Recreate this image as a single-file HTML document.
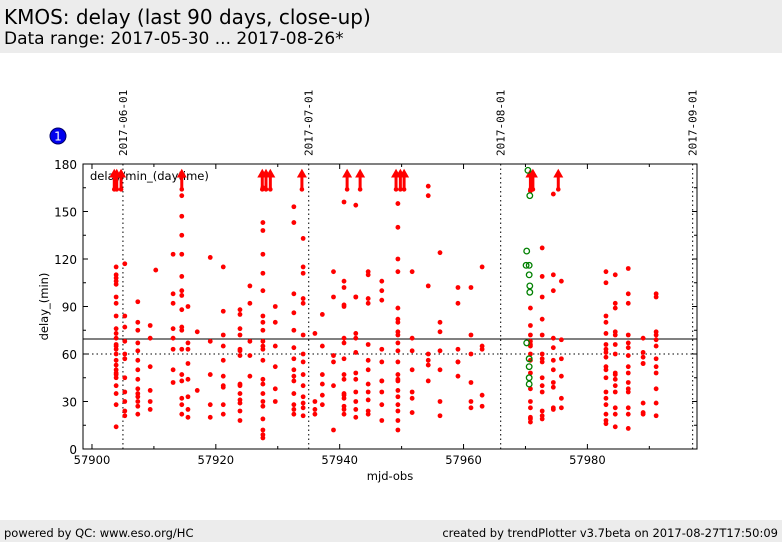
<!DOCTYPE html>
<html><head><meta charset="utf-8"><style>
body{margin:0;width:782px;height:542px;background:#fff;font-family:"DejaVu Sans","Liberation Sans",sans-serif;overflow:hidden;position:relative}
#hdr{position:absolute;left:0;top:0;width:782px;height:53px;background:#ececec}
#t1{position:absolute;left:4px;top:5px;font-size:20px;color:#000}
#t2{position:absolute;left:4px;top:29px;font-size:17px;color:#000}
#ftr{position:absolute;left:0;top:520px;width:782px;height:22px;background:#ececec;font-size:11.5px}
#fl{position:absolute;left:4px;top:6px}
#fr{position:absolute;right:4px;top:6px}
svg{position:absolute;left:0;top:0}
</style></head><body>
<div id="hdr">
<div id="t1">KMOS: delay (last 90 days, close-up)</div>
<div id="t2">Data range: 2017-05-30 ... 2017-08-26*</div>
</div>
<svg id="chart" width="782" height="542"></svg>
<div id="ftr">
<span id="fl">powered by QC: www.eso.org/HC</span>
<span id="fr">created by trendPlotter v3.7beta on 2017-08-27T17:50:09</span>
</div>
<script>
const colMjd=[57903.9,57905.3,57907.4,57909.4,57910.3,57913.1,57914.5,57915.5,57917.0,57919.1,57921.2,57923.9,57925.5,57927.6,57929.6,57932.6,57934.1,57936.0,57937.2,57939.0,57940.7,57942.6,57944.6,57946.8,57949.4,57951.7,57954.3,57956.2,57959.1,57961.2,57963.0,57970.8,57972.7,57974.5,57975.8,57983.0,57984.5,57986.6,57989.0,57991.1];
const colDelays=[
[108,106,104,96,115,110,92,84,76,73,70,66,63,60,56,53,50,48,45,40,35,28,14,65,47],
[117,84,77,68,60,57,45,36,30,24,21],
[93,80,75,67,62,56,50,44,38,35,33,30,27,22],
[78,70,37,30,25,52],
[113],
[123,98,92,76,70,63,50,42],
[172,160,147,135,123,109,100,97,88,77,75,63,47,43,32,28,22],
[90,67,63,54,44,33,20,25],
[74,37],
[121,68,47,28,20],
[87,72,65,56,46,40,39,28,22,115],
[88,76,72,63,62,59,41,40,35,31,29,24,18,85],
[103,92,68,59,46],
[165,143,138,123,111,100,84,80,75,68,65,63,56,44,41,35,30,27,19,12,9,7],
[90,80,65,52,38,30],
[153,143,98,86,64,57,50,46,43,35,28,25,22,75],
[115,111,95,92,72,60,55,47,40,33,29,26,21,133],
[73,30,25,22],
[85,65,47,41,34,28],
[96,59,55,40,12,112],
[156,106,102,91,90,70,67,57,47,35,34,32,27,25,22,44],
[154,96,96,73,61,48,44,36,30,25,20,70],
[110,112,95,92,66,56,50,41,36,31,24,22],
[106,100,94,63,55,43,36,28,18,43],
[155,140,120,89,82,80,74,72,67,62,55,47,44,43,37,33,28,24,18,12,112],
[112,70,62,50,36,32,23],
[166,160,103,56,53,60,43],
[124,80,74,62,50,30,21],
[92,102,63,55,46,55],
[102,72,60,42,30,26],
[115,63,65,34,27],
[68,66,65,72,60,56,48,38,30,26,20,19,17,89,78,163],
[127,96,82,72,60,57,55,45,40,36,24,21,19,109],
[110,100,70,64,56,50,42,39,26,25,161],
[106,69,57,46,32,26],
[112,84,80,73,66,63,61,58,52,50,45,36,32,28,22,18,16,105],
[110,92,89,74,72,66,60,47,44,40,36,26,22,14,48],
[114,98,92,72,67,64,59,52,48,42,38,36,26,22,13],
[70,61,58,54,29,23,22,54],
[98,96,74,72,69,57,52,48,38,29,21,65]];
const greenMjd=[57970.4,57970.7,57970.2,57970.1,57970.6,57970.6,57970.7,57970.7,57970.2,57970.6,57970.6,57970.6,57970.6];
const greenDelays=[176,160,125,116,116,110,103,99,67,57,52,45,41];
const arrowMjd=[57903.6,57904.0,57904.7,57914.5,57927.5,57928.1,57928.8,57933.9,57941.2,57943.3,57949.1,57949.8,57950.4,57970.8,57971.2,57975.3];
const yTicks=[0,30,60,90,120,150,180];
const xTicks=[57900,57920,57940,57960,57980];
const dateLines=[57905,57935,57966,57997];
const dateLabels=["2017-06-01","2017-07-01","2017-08-01","2017-09-01"];
const refSolid=69.5, refDotted=60;

const L=83,R=697,T=164,B=449,XMIN=57898.55,XMAX=57997.7,YMIN=0,YMAX=180;
const sx=v=>L+(v-XMIN)/(XMAX-XMIN)*(R-L);
const sy=v=>B-(v-YMIN)/(YMAX-YMIN)*(B-T);
const svg=document.getElementById('chart');
const NS='http://www.w3.org/2000/svg';
function mk(tag,at,parent){const e=document.createElementNS(NS,tag);for(const k in at)e.setAttribute(k,at[k]);(parent||svg).appendChild(e);return e;}

// plot frame
const frame=mk('rect',{x:L,y:T,width:R-L,height:B-T,fill:'#fff',stroke:'#000','stroke-width':1});



// date lines
dateLines.forEach((d,i)=>{
  const x=sx(d);
  const ln=mk('line',{x1:x,y1:T,x2:x,y2:B,stroke:'#000','stroke-width':1,'stroke-dasharray':'1.5,3'});
  
  
  const tx=mk('text',{x:0,y:0,transform:`translate(${x+4},${T-8}) rotate(-90)`,'font-size':11,'font-family':'DejaVu Sans Mono,Liberation Mono,monospace',fill:'#000'});
  tx.textContent=dateLabels[i];
  
  
});

// reference lines
const rs=mk('line',{x1:L,y1:sy(refSolid),x2:R,y2:sy(refSolid),stroke:'#000','stroke-width':1});


const rd=mk('line',{x1:L,y1:sy(refDotted),x2:R,y2:sy(refDotted),stroke:'#000','stroke-width':1,'stroke-dasharray':'1.5,3'});



// y ticks
yTicks.forEach(v=>{
  const y=sy(v);
  mk('line',{x1:L,y1:y,x2:L+5,y2:y,stroke:'#000'});
  mk('line',{x1:R,y1:y,x2:R-5,y2:y,stroke:'#000'});
  const t=mk('text',{x:L-6,y:y+5,'text-anchor':'end','font-size':12,fill:'#000'});
  t.textContent=v;
  
  
});
for(let v=15;v<180;v+=30){const y=sy(v);mk('line',{x1:L,y1:y,x2:L+3,y2:y,stroke:'#000'});mk('line',{x1:R,y1:y,x2:R-3,y2:y,stroke:'#000'});}
// x ticks
xTicks.forEach(v=>{
  const x=sx(v);
  mk('line',{x1:x,y1:B,x2:x,y2:B-5,stroke:'#000'});
  mk('line',{x1:x,y1:T,x2:x,y2:T+5,stroke:'#000'});
  const t=mk('text',{x:x,y:B+15,'text-anchor':'middle','font-size':11.5,fill:'#000'});
  t.textContent=v;
  
  
});
for(let v=57910;v<57997;v+=20){const x=sx(v);mk('line',{x1:x,y1:B,x2:x,y2:B-3,stroke:'#000'});mk('line',{x1:x,y1:T,x2:x,y2:T+3,stroke:'#000'});}

const xl=mk('text',{x:(L+R)/2,y:480,'text-anchor':'middle','font-size':11.5,fill:'#000'});
xl.textContent='mjd-obs';


const yl=mk('text',{x:0,y:0,transform:`translate(48,${(T+B)/2}) rotate(-90)`,'text-anchor':'middle','font-size':11.5,fill:'#000'});
yl.textContent='delay_(min)';


const lg=mk('text',{x:L+7,y:T+16,'font-size':11.5,fill:'#000'});
lg.textContent='delay/min_(daytime)';



// badge
const bd=mk('circle',{cx:58,cy:136,r:8,fill:'#0000ee',stroke:'#000066'});


const bt=mk('text',{x:58,y:140.5,'text-anchor':'middle','font-size':12,fill:'#fff'});
bt.textContent='1';

// arrows
arrowMjd.forEach(m=>{
  const x=sx(m);
  const g=mk('g',{});
  
  
  mk('line',{x1:x,y1:sy(164),x2:x,y2:sy(174),stroke:'#ff0000','stroke-width':3},g);
  mk('polygon',{points:`${x-5},${sy(171.5)} ${x+5},${sy(171.5)} ${x},${sy(177)}`,fill:'#ff0000'},g);
  mk('circle',{cx:x,cy:sy(164),r:2.3,fill:'#ff0000'},g);
});

// red points
colMjd.forEach((m,i)=>{
  colDelays[i].forEach(d=>{
    const c=mk('circle',{cx:sx(m),cy:sy(d),r:2.4,fill:'#ff0000'});
    
    
  });
});
// green points
greenMjd.forEach((m,i)=>{
  const c=mk('circle',{cx:sx(m),cy:sy(greenDelays[i]),r:2.8,fill:'none',stroke:'#008000','stroke-width':1.3});
  
  
});
</script>
</body></html>
